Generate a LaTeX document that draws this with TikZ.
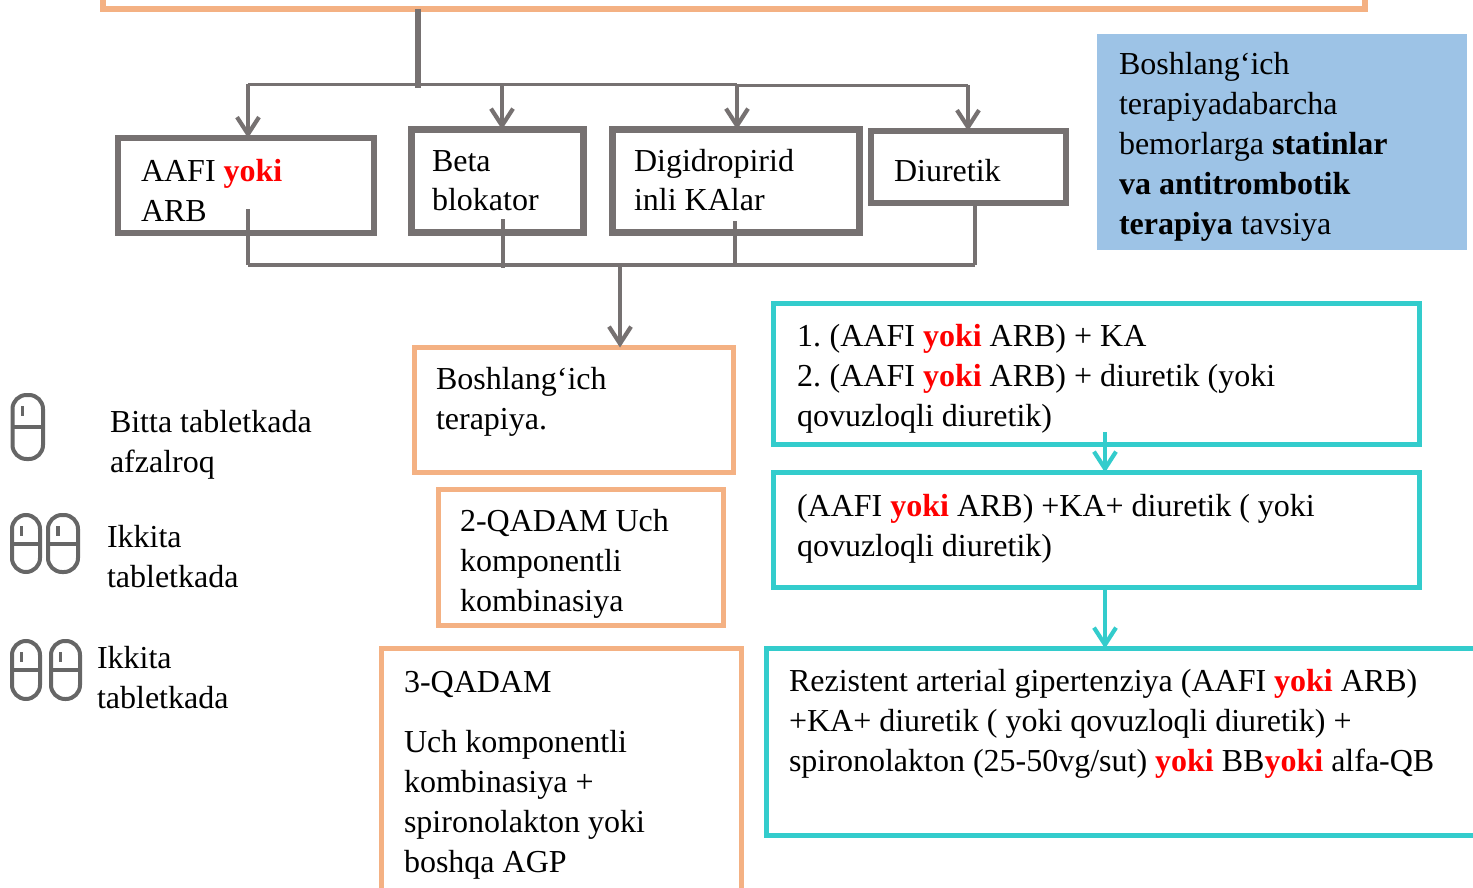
\documentclass[tikz,border=0pt]{standalone}
\usepackage{fontspec}
\setmainfont{Liberation Serif}
\usetikzlibrary{arrows.meta,calc}
\definecolor{org}{HTML}{F4B183}
\definecolor{gry}{HTML}{767171}
\definecolor{teal2}{HTML}{33CCCC}
\definecolor{blu}{HTML}{9DC3E6}
\definecolor{pil}{HTML}{666666}
\newcommand{\yk}{\textcolor{red}{\textbf{yoki}}}
\newcommand{\pilla}[4]{%
  \draw[pillline] (#1,#2) rectangle (#3,#4);
  \draw[pillline,rounded corners=0pt] (#1,{(#2+#4)/2}) -- (#3,{(#2+#4)/2});
  \draw[pillline,rounded corners=0pt,line width=3.2pt] ({#1+(#3-#1)*0.33},{#2+11}) -- ({#1+(#3-#1)*0.33},{#2+21});
}
\tikzset{
  x=1pt,y=-1pt,
  boxbase/.style={draw,fill=white,inner sep=0pt,outer sep=0pt},
  gbox/.style={boxbase,draw=gry,line width=6pt},
  gboxb/.style={boxbase,draw=gry,line width=7pt},
  obox/.style={boxbase,draw=org,line width=5.5pt},
  tbox/.style={boxbase,draw=teal2,line width=5.5pt},
  txt/.style={anchor=base west,align=left,inner sep=0pt,outer sep=0pt,font=\fontsize{32}{39.8}\selectfont},
  gline/.style={draw=gry,line width=3.5pt},
  garrow/.style={gline,-{Straight Barb[length=17pt,width=22pt,line width=4.2pt]}},
  tarrow/.style={draw=teal2,line width=4pt,-{Straight Barb[length=17pt,width=22pt,line width=4.2pt]}},
  pillline/.style={draw=pil,line width=4pt,rounded corners=14pt},
}
\begin{document}
\begin{tikzpicture}
\useasboundingbox (0,0) rectangle (1473,888);
\clip (0,0) rectangle (1473,888);
% boxes
\node[obox,minimum width=1262pt,minimum height=60pt] (topbox) at (734,-21) {};
\node[gbox,minimum width=256pt,minimum height=95pt] (aafi) at (246,185.5) {};
\node[gboxb,minimum width=172pt,minimum height=103pt] (beta) at (497,181) {};
\node[gboxb,minimum width=247pt,minimum height=103pt] (digi) at (736,181) {};
\node[gbox,minimum width=195pt,minimum height=72pt] (diur) at (968.5,167) {};
\node[draw=none,fill=blu,inner sep=0pt,minimum width=370pt,minimum height=216pt] (blue) at (1282,142) {};
\node[obox,minimum width=319pt,minimum height=125pt] (bosh) at (574,410) {};
\node[obox,minimum width=285pt,minimum height=136pt] (q2) at (581,557.5) {};
\node[obox,minimum width=360pt,minimum height=300pt] (q3) at (561.5,798.5) {};
\node[tbox,minimum width=646pt,minimum height=141pt] (t1) at (1096.5,374) {};
\node[tbox,minimum width=646pt,minimum height=115pt] (t2) at (1096.5,530) {};
\node[tbox,minimum width=760pt,minimum height=187pt] (t3) at (1146.5,742) {};
% connector junctions
\coordinate (busT) at (418,84.5);
\coordinate (busL) at (248,84.5);
\coordinate (busB) at (502,84.5);
\coordinate (busD) at (737,84.5);
\coordinate (busR) at (968,85.5);
\coordinate (lowL) at (248,265);
\coordinate (lowB) at (503,265);
\coordinate (lowD) at (735,265);
\coordinate (lowR) at (975,265);
\coordinate (lowO) at (620,265);
\coordinate (inL) at (248,209);
\coordinate (inB) at (503,219);
\coordinate (inD) at (735,221);
\coordinate (inR) at (975,200);
\coordinate (tA) at (1105,432);
\coordinate (tB) at (1105,590);
% grey connectors
\draw[draw=gry,line width=5.5pt] (topbox.south -| busT) -- ($(busT)+(0,4)$);
\draw[gline] (busL) -- (busD);
\draw[gline] (busD |- busR) -- (busR);
\draw[garrow] (busL) -- (busL |- aafi.north);
\draw[garrow] (busB) -- (busB |- beta.north);
\draw[garrow] (busD) -- (busD |- digi.north);
\draw[garrow] (busR) -- (busR |- diur.north);
\draw[gline] (lowL) -- (lowR);
\draw[gline] (inL) -- (lowL);
\draw[draw=gry,line width=4.5pt] (inB) -- ($(lowB)+(0,3)$);
\draw[gline] (inD) -- (lowD);
\draw[gline] (inR) -- (lowR);
\draw[garrow] (lowO) -- (lowO |- bosh.north);
% teal connectors
\draw[tarrow] (tA) -- (tA |- t2.north);
\draw[tarrow] (t2.south -| tB) -- (tB |- t3.north);
% text (node position = baseline of the last line)
\node[txt] (x1) at (141,221) {AAFI \yk\\ARB};
\node[txt] (x2) at (432,211) {Beta\\blokator};
\node[txt] (x3) at (634,211) {Digidropirid\\inli KAlar};
\node[txt] (x4) at (894,182) {Diuretik};
\node[txt] (x5) at (1119,234) {Boshlang‘ich\\terapiyadabarcha\\bemorlarga \textbf{statinlar}\\\textbf{va antitrombotik}\\\textbf{terapiya} tavsiya};
\node[txt] (x6) at (436,429) {Boshlang‘ich\\terapiya.};
\node[txt] (x7) at (460,611) {2-QADAM Uch\\komponentli\\kombinasiya};
\node[txt] (x8) at (404,692) {3-QADAM};
\node[txt] (x9) at (404,872) {Uch komponentli\\kombinasiya +\\spironolakton yoki\\boshqa AGP};
\node[txt] (x10) at (797,426) {1.\kern-2pt{} (AAFI \yk{} ARB) + KA\\2.\kern-2pt{} (AAFI \yk{} ARB) + diuretik (yoki\\qovuzloqli diuretik)};
\node[txt] (x11) at (797,556) {(AAFI \yk{} ARB) +KA+ diuretik ( yoki\\qovuzloqli diuretik)};
\node[txt] (x12) at (789,771) {Rezistent arterial gipertenziya (AAFI \yk{} ARB)\\+KA+ diuretik ( yoki qovuzloqli diuretik) +\\spironolakton (25-50vg/sut) \yk{} BB\yk{} alfa-QB};
\node[txt] (x13) at (110,472) {Bitta tabletkada\\afzalroq};
\node[txt] (x14) at (107,587) {Ikkita\\tabletkada};
\node[txt] (x15) at (97,708) {Ikkita\\tabletkada};
% pills
\pilla{12.5}{395}{43}{459}
\pilla{12}{515}{40}{572}
\pilla{48}{515}{78}{572}
\pilla{12}{641}{40}{699}
\pilla{51}{641}{80}{699}
\end{tikzpicture}
\end{document}
